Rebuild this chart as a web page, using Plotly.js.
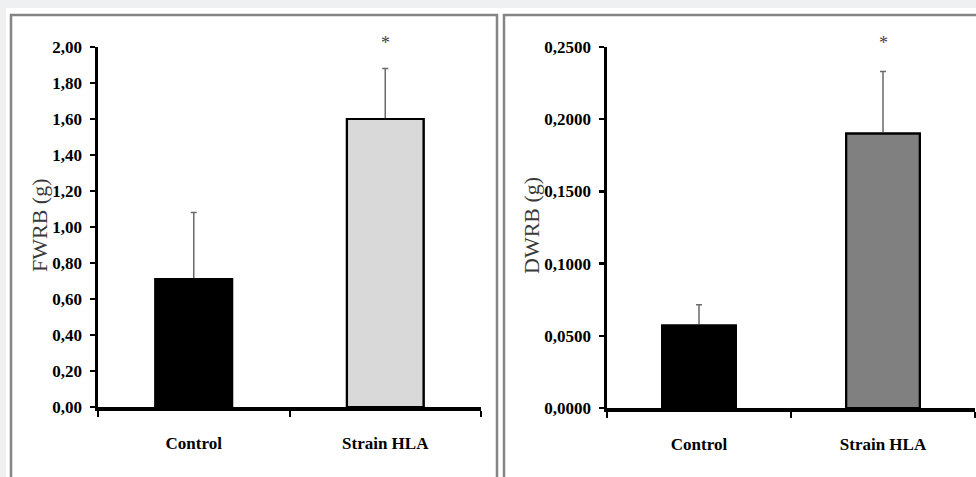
<!DOCTYPE html>
<html>
<head>
<meta charset="utf-8">
<script src="https://cdn.plot.ly/plotly-3.0.1.min.js"></script>
<style>
  html, body { margin: 0; padding: 0; background: #eef0f2; }
  #chart { width: 976px; height: 477px; }
</style>
</head>
<body>
<div id="chart"></div>
<script>
// ---- data ----
const categories = ['Control', 'Strain HLA'];
const fwrbValues = [0.71, 1.60];
const fwrbErrors = [0.37, 0.28];
const dwrbValues = [0.057, 0.190];
const dwrbErrors = [0.0145, 0.043];
const significance = ['', '*'];
const fwrbTickVals = [0, 0.2, 0.4, 0.6, 0.8, 1.0, 1.2, 1.4, 1.6, 1.8, 2.0];
const fwrbTickText = ['0,00', '0,20', '0,40', '0,60', '0,80', '1,00', '1,20', '1,40', '1,60', '1,80', '2,00'];
const dwrbTickVals = [0, 0.05, 0.10, 0.15, 0.20, 0.25];
const dwrbTickText = ['0,0000', '0,0500', '0,1000', '0,1500', '0,2000', '0,2500'];
const fwrbTitle = 'FWRB (g)';
const dwrbTitle = 'DWRB (g)';

// ---- layout helpers (pixel -> paper) ----
const W = 976, H = 477;
const px = v => v / W;
const py = v => 1 - v / H;

const serif = 'Liberation Serif, Times New Roman, serif';
const tickFont = { family: serif, size: 17, color: '#000', weight: 700 };

function errorSpec(arr) {
  return { type: 'data', array: arr, arrayminus: arr.map(() => 0), symmetric: false,
           color: '#6a6a6a', thickness: 1.5, width: 3, visible: true };
}

function barPair(values, errors, colors, xa, ya) {
  const base = {
    type: 'bar', x: categories, y: values, xaxis: xa, yaxis: ya, width: 0.4,
    marker: { color: colors, line: { color: '#000', width: 2.2 } },
    hoverinfo: 'skip', showlegend: false
  };
  // first copy carries the error bars, second copy redraws the bars on top
  return [Object.assign({}, base, { error_y: errorSpec(errors) }), Object.assign({}, base)];
}

const traces = [].concat(
  barPair(fwrbValues, fwrbErrors, ['#000000', '#d9d9d9'], 'x', 'y'),
  barPair(dwrbValues, dwrbErrors, ['#000000', '#808080'], 'x2', 'y2')
);

function xAxis(domain, anchor) {
  return {
    domain: domain, anchor: anchor, type: 'category',
    showline: true, linecolor: '#000', linewidth: 3.5,
    ticks: 'outside', tickson: 'boundaries', ticklen: 6, tickwidth: 2, tickcolor: '#000',
    ticklabelstandoff: 18, tickfont: tickFont, showgrid: false, zeroline: false,
    fixedrange: true
  };
}
function yAxis(domain, anchor, range, vals, text) {
  return {
    domain: domain, anchor: anchor, range: range,
    tickmode: 'array', tickvals: vals, ticktext: text,
    showline: true, linecolor: '#000', linewidth: 3.5,
    ticks: 'outside', ticklen: 5, tickwidth: 2.5, tickcolor: '#000',
    ticklabelstandoff: 4, tickfont: tickFont, showgrid: false, zeroline: false,
    fixedrange: true
  };
}

const annotations = [
  { xref: 'paper', yref: 'paper', x: px(39), y: py(225), xanchor: 'center', yanchor: 'middle',
    text: fwrbTitle, textangle: -90,
    showarrow: false, font: { family: serif, size: 22, color: '#3a3a3a' } },
  { xref: 'paper', yref: 'paper', x: px(531), y: py(226), xanchor: 'center', yanchor: 'middle',
    text: dwrbTitle, textangle: -90,
    showarrow: false, font: { family: serif, size: 22, color: '#3a3a3a' } }
];
categories.forEach((c, i) => {
  if (significance[i]) {
    annotations.push({ xref: 'x', yref: 'y', x: c, y: 2.0, yshift: 4, text: significance[i],
      showarrow: false, font: { family: serif, size: 18, color: '#444' } });
    annotations.push({ xref: 'x2', yref: 'y2', x: c, y: 0.25, yshift: 4, text: significance[i],
      showarrow: false, font: { family: serif, size: 18, color: '#444' } });
  }
});

const frameLine = { color: '#858585', width: 2.5 };
const shapes = [
  { type: 'rect', xref: 'paper', yref: 'paper', x0: px(6), x1: px(980), y0: py(485), y1: py(8),
    fillcolor: '#ffffff', line: { width: 0 }, layer: 'below' },
  { type: 'rect', xref: 'paper', yref: 'paper', x0: px(11), x1: px(497), y0: py(490), y1: py(15),
    fillcolor: 'rgba(0,0,0,0)', line: frameLine, layer: 'below' },
  { type: 'rect', xref: 'paper', yref: 'paper', x0: px(504), x1: px(990), y0: py(490), y1: py(15),
    fillcolor: 'rgba(0,0,0,0)', line: frameLine, layer: 'below' }
];

const layout = {
  width: W, height: H,
  margin: { l: 0, r: 0, t: 0, b: 0 },
  paper_bgcolor: '#eef0f2', plot_bgcolor: 'rgba(0,0,0,0)',
  showlegend: false, barmode: 'overlay',
  xaxis: xAxis([px(98), px(481)], 'y'),
  yaxis: yAxis([1 - 407 / H, 1 - 47 / H], 'x', [0, 2], fwrbTickVals, fwrbTickText),
  xaxis2: xAxis([px(607), px(975)], 'y2'),
  yaxis2: yAxis([1 - 408 / H, 1 - 47 / H], 'x2', [0, 0.25], dwrbTickVals, dwrbTickText),
  annotations: annotations,
  shapes: shapes
};

Plotly.newPlot('chart', traces, layout, { displayModeBar: false, staticPlot: true });
</script>
</body>
</html>
